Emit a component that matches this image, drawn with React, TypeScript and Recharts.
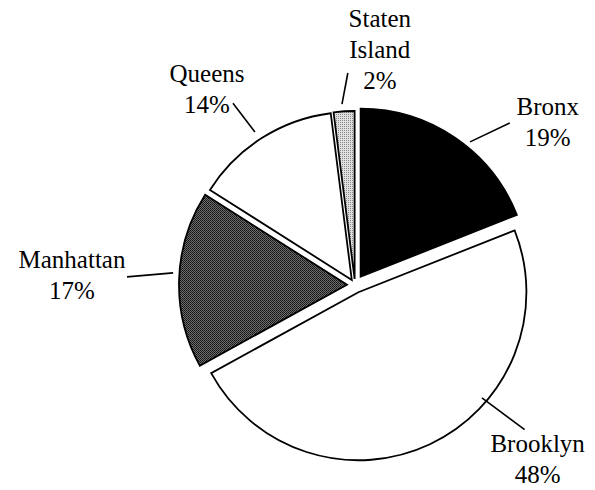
import React from 'react';
import { PieChart, Pie, Cell, Sector } from 'recharts';

const RADIAN = Math.PI / 180;

// borough shares, percent
const boroughs = ['Bronx', 'Brooklyn', 'Manhattan', 'Queens', 'Staten Island'];
const shares = [19, 48, 17, 14, 2];
// label text lines per slice
const labelLines = [['Bronx'], ['Brooklyn'], ['Manhattan'], ['Queens'], ['Staten', 'Island']];

const data = boroughs.map((name, i) => ({ name, value: shares[i] }));

const fills = ['#000000', '#ffffff', 'url(#manhattanTex)', '#ffffff', 'url(#statenTex)'];
// how far each slice is pulled out from the centre
const explode = [10, 8, 8, 6, 6];
// leader line: [angle, radius] start and end, then text offset from line end
const leaders: any[] = [
  { from: [49, 183], to: [44.5, 224], dx: 38, dy: -8 },
  { from: [-41.8, 177], to: [-40.6, 230], dx: 13, dy: 22 },
  { from: [177.7, 177], to: [179.2, 223], dx: -55, dy: -9 },
  { from: [122.7, 176], to: [123.5, 212], dx: -26, dy: -21 },
  { from: [92.6, 176], to: [90.6, 207], dx: 32, dy: -46 },
];

const cx = 350;
const cy = 280;
const oR = 168;
const lineGap = 31;
const font = '"Liberation Serif", "Times New Roman", serif';

const polar = (a: number, r: number) => [cx + r * Math.cos(-RADIAN * a), cy + r * Math.sin(-RADIAN * a)];

const explodedShape = (props: any) => {
  const { cx, cy, midAngle, index } = props;
  const off = explode[index] || 0;
  const x = cx + off * Math.cos(-RADIAN * midAngle);
  const y = cy + off * Math.sin(-RADIAN * midAngle);
  return <Sector {...props} cx={x} cy={y} />;
};

const renderLabel = (props: any) => {
  const { index, value } = props;
  const l = leaders[index];
  const [x1, y1] = polar(l.from[0], l.from[1]);
  const [x2, y2] = polar(l.to[0], l.to[1]);
  const lines = [...labelLines[index], `${value}%`];
  return (
    <g key={`lbl-${index}`}>
      <line x1={x1} y1={y1} x2={x2} y2={y2} stroke="#000" strokeWidth={1.6} />
      {lines.map((t, i) => (
        <text
          key={i}
          x={x2 + l.dx}
          y={y2 + l.dy + i * lineGap}
          textAnchor="middle"
          fontFamily={font}
          fontSize={25}
          fill="#000"
        >
          {t}
        </text>
      ))}
    </g>
  );
};

export default function App() {
  return (
    <div style={{ marginLeft: -8, marginTop: -8, background: '#fff', width: 595, height: 490 }}>
      <svg width={0} height={0} style={{ position: 'absolute' }}>
        <defs>
          <pattern id="manhattanTex" width={2} height={2} patternUnits="userSpaceOnUse">
            <rect width={2} height={2} fill="#6e6e6e" />
            <rect x={0} y={0} width={1} height={1} fill="#111" />
            <rect x={1} y={1} width={1} height={1} fill="#222" />
          </pattern>
          <pattern id="statenTex" width={2} height={2} patternUnits="userSpaceOnUse">
            <rect width={2} height={2} fill="#e0e0e0" />
            <rect x={0} y={0} width={1} height={1} fill="#888" />
          </pattern>
        </defs>
      </svg>
      <PieChart width={595} height={490}>
        <Pie
          dataKey="value"
          data={data}
          cx={cx}
          cy={cy}
          innerRadius={0}
          outerRadius={oR}
          startAngle={90}
          endAngle={-270}
          stroke="#000"
          strokeWidth={1.8}
          shape={explodedShape}
          label={renderLabel}
          labelLine={false}
          isAnimationActive={false}
        >
          {data.map((entry: any, index: number) => (
            <Cell key={`cell-${index}`} fill={fills[index]} />
          ))}
        </Pie>
      </PieChart>
    </div>
  );
}
